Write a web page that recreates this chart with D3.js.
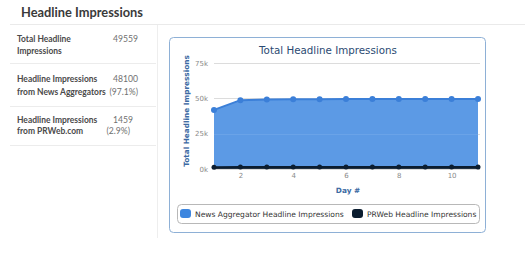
<!DOCTYPE html>
<html><head><meta charset="utf-8">
<script src="https://cdn.jsdelivr.net/npm/d3@7"></script>
<style>
html,body{margin:0;padding:0;background:#fff;}
svg{display:block;}
</style></head>
<body>
<svg id="c" width="525" height="254"></svg>
<script>
const days = [1,2,3,4,5,6,7,8,9,10,11];
const newsValues = [40500,47300,47700,47850,47950,48000,48040,48070,48090,48100,48100];
const prwebValues = [1300,1400,1420,1430,1440,1445,1450,1455,1457,1459,1459];
const seriesNames = ["News Aggregator Headline Impressions","PRWeb Headline Impressions"];
const yTicks = [0,25000,50000,75000];
const xTicks = [2,4,6,8,10];
const summaryRows = [
  {label:["Total Headline","Impressions"], value:["49559"]},
  {label:["Headline Impressions","from News Aggregators"], value:["48100","(97.1%)"]},
  {label:["Headline Impressions","from PRWeb.com"], value:["1459","(2.9%)"]}
];

const svg = d3.select("#c");
const sansPage = "Lato, 'Open Sans', sans-serif";
const sansChart = "'DejaVu Sans', Verdana, sans-serif";

function fitSize(family, weight, text, target, base){
  const t = svg.append("text").attr("font-family",family).attr("font-weight",weight).attr("font-size",base).text(text);
  const w = t.node().getComputedTextLength();
  t.remove();
  return base*target/w;
}

const headSize = fitSize(sansPage,700,"Headline Impressions",122,14);
const labSize = fitSize(sansPage,700,"from News Aggregators",89,9);
const valSize = fitSize(sansPage,400,"49559",25,9);
const titleSize = fitSize(sansChart,400,"Total Headline Impressions",138,11);
const legSize = fitSize(sansChart,400,seriesNames[0],149,9);
const yTitleSize = fitSize(sansChart,700,"Total Headline Impressions",112,9);
const tickSize = fitSize(sansChart,400,"75k",13,8);

// page header
svg.append("text").attr("x",21).attr("y",17).text("Headline Impressions")
  .attr("font-family",sansPage).attr("font-weight",700).attr("font-size",headSize).attr("fill","#3a3a3a");
svg.append("line").attr("x1",10).attr("x2",525).attr("y1",24.5).attr("y2",24.5).attr("stroke","#eaeaea");
svg.append("line").attr("x1",157.5).attr("x2",157.5).attr("y1",25).attr("y2",238).attr("stroke","#eeeeee");

// summary table
const labY = [[42,54],[82,95],[123,134]];
const valX = [[138],[138,138],[133,130]];
const sepY = [63,106,145];
summaryRows.forEach((r,i)=>{
  const g = svg.append("g");
  r.label.forEach((t,j)=>{
    g.append("text").attr("x",17).attr("y",labY[i][j]).text(t)
     .attr("font-family",sansPage).attr("font-weight",700).attr("font-size",labSize).attr("fill","#4a4a4a");
  });
  r.value.forEach((t,j)=>{
    g.append("text").attr("x",valX[i][j]).attr("y",labY[i][j]).text(t).attr("text-anchor","end")
     .attr("font-family",sansPage).attr("font-size",valSize).attr("fill","#707070");
  });
  svg.append("line").attr("x1",10).attr("x2",156).attr("y1",sepY[i]+0.5).attr("y2",sepY[i]+0.5).attr("stroke","#ececec");
});

// chart box
svg.append("rect").attr("x",169.5).attr("y",37.5).attr("width",316).attr("height",195).attr("rx",4)
  .attr("fill","#fff").attr("stroke","#8eb0d6");
svg.append("text").attr("x",328).attr("y",54).attr("text-anchor","middle").text("Total Headline Impressions")
  .attr("font-family",sansChart).attr("font-size",titleSize).attr("fill","#2b4a72");

const x = d3.scaleLinear().domain([1,11]).range([214,478]);
const y = d3.scaleLinear().domain([0,75000]).range([169,63]);

svg.append("g").selectAll("line").data(yTicks).join("line")
  .attr("x1",214).attr("x2",480).attr("y1",d=>Math.round(y(d))+0.5).attr("y2",d=>Math.round(y(d))+0.5)
  .attr("stroke","#dcdcdc");

const table = days.map((d,i)=>({day:d, prweb:prwebValues[i], news:newsValues[i]}));
const stack = d3.stack().keys(["prweb","news"])(table);
const area = d3.area().x(d=>x(d.data.day)).y0(d=>y(d[0])).y1(d=>y(d[1]));
const line = d3.line().x(d=>x(d.data.day)).y(d=>y(d[1]));

const colors = {news:"#3d86df", prweb:"#0b1d30"};
svg.append("path").datum(stack[1]).attr("d",area).attr("fill","#4a8fe2").attr("fill-opacity",0.9);
svg.append("g").selectAll("line").data(yTicks.filter(d=>d>0 && d<50000)).join("line")
  .attr("x1",214).attr("x2",478).attr("y1",d=>Math.round(y(d))+0.5).attr("y2",d=>Math.round(y(d))+0.5)
  .attr("stroke","#6aa3e8").attr("stroke-width",1);
svg.append("path").datum(stack[0]).attr("d",area).attr("fill",colors.prweb).attr("fill-opacity",0.9);
svg.append("path").datum(stack[1]).attr("d",line).attr("fill","none").attr("stroke","#3b7fd8").attr("stroke-width",2);
svg.append("path").datum(stack[0]).attr("d",line).attr("fill","none").attr("stroke",colors.prweb).attr("stroke-width",2);
svg.append("g").selectAll("circle").data(stack[1]).join("circle")
  .attr("cx",d=>x(d.data.day)).attr("cy",d=>y(d[1])).attr("r",3).attr("fill","#3b7fd8");
svg.append("g").selectAll("circle").data(stack[0]).join("circle")
  .attr("cx",d=>x(d.data.day)).attr("cy",d=>y(d[1])).attr("r",2.5).attr("fill",colors.prweb);

const ya = svg.append("g").attr("transform","translate(214,0)")
  .call(d3.axisLeft(y).tickValues(yTicks).tickFormat(d=>(d/1000)+"k").tickSize(0).tickPadding(6));
ya.select(".domain").remove();
ya.selectAll("text").attr("font-family",sansChart).attr("font-size",tickSize).attr("fill","#8a8a8a");
const xa = svg.append("g").attr("transform","translate(0,169)")
  .call(d3.axisBottom(x).tickValues(xTicks).tickSize(0).tickPadding(4));
xa.select(".domain").remove();
xa.selectAll("text").attr("font-family",sansChart).attr("font-size",tickSize).attr("fill","#8a8a8a");

svg.append("text").attr("x",348).attr("y",193).attr("text-anchor","middle").text("Day #")
  .attr("font-family",sansChart).attr("font-weight",700).attr("font-size",yTitleSize).attr("fill","#3c6aa3");
svg.append("text").attr("transform","translate(189,111) rotate(-90)").attr("text-anchor","middle")
  .text("Total Headline Impressions")
  .attr("font-family",sansChart).attr("font-weight",700).attr("font-size",yTitleSize).attr("fill","#3c6aa3");

svg.append("rect").attr("x",177.5).attr("y",204.5).attr("width",302).attr("height",19).attr("rx",4)
  .attr("fill","#fff").attr("stroke","#b8b8b8");
const legX = [180,352];
const legC = ["#3d86df","#0b1d30"];
seriesNames.forEach((n,i)=>{
  svg.append("rect").attr("x",legX[i]).attr("y",209).attr("width",11).attr("height",9).attr("rx",3).attr("fill",legC[i]);
  svg.append("text").attr("x",legX[i]+15).attr("y",217).text(n)
    .attr("font-family",sansChart).attr("font-size",legSize).attr("fill","#333");
});
</script>
</body></html>
